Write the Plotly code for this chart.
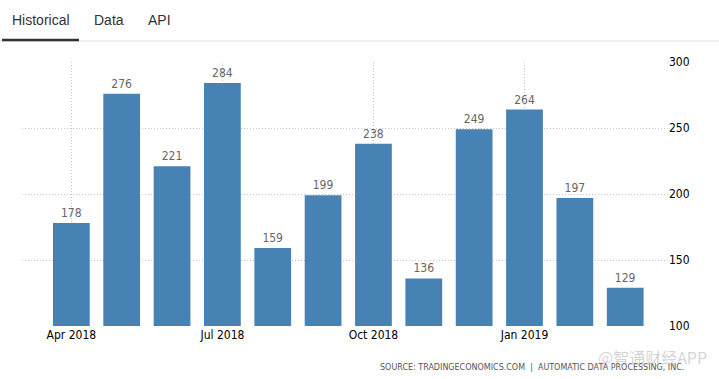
import plotly.graph_objects as go

months = ["Apr 2018", "May 2018", "Jun 2018", "Jul 2018", "Aug 2018", "Sep 2018",
          "Oct 2018", "Nov 2018", "Dec 2018", "Jan 2019", "Feb 2019", "Mar 2019"]
values = [178, 276, 221, 284, 159, 199, 238, 136, 249, 264, 197, 129]
tick_idx = [0, 3, 6, 9]
tick_labels = ["Apr 2018", "Jul 2018", "Oct 2018", "Jan 2019"]
y_ticks = [100, 150, 200, 250, 300]

W, H = 719, 379
L, R, T, B = 22, 668, 62, 326

def px(x):
    return (x - L) / (R - L)

def py(y):
    return (B - y) / (B - T)

x = list(range(len(values)))
fig = go.Figure()
fig.add_trace(go.Bar(
    x=x, y=values, width=0.73, marker=dict(color="#4682B4", line=dict(width=0)),
    text=[str(v) for v in values], textposition="outside",
    textfont=dict(family="DejaVu Sans Condensed", size=12, color="#666666"),
    cliponaxis=False, hoverinfo="skip",
))

fig.update_layout(
    width=W, height=H, margin=dict(l=L, r=W - R, t=T, b=H - B),
    paper_bgcolor="white", plot_bgcolor="white", showlegend=False,
    bargap=0.27,
    xaxis=dict(range=[-0.98, 11.85], tickmode="array", tickvals=tick_idx, ticktext=tick_labels,
               showgrid=True, gridcolor="#c8c8c8", griddash="1px,2px", gridwidth=1,
               zeroline=False, showline=False, ticks="",
               tickfont=dict(family="DejaVu Sans Condensed", size=12, color="#000000")),
    yaxis=dict(range=[100, 300], side="right", tickmode="array", tickvals=y_ticks,
               showgrid=True, gridcolor="#c8c8c8", griddash="1px,2px", gridwidth=1,
               zeroline=False, showline=False, ticks="",
               tickfont=dict(family="DejaVu Sans Condensed", size=12, color="#000000")),
    font=dict(family="DejaVu Sans Condensed"),
)

# tabs header
tabs = [("Historical", 10), ("Data", 92), ("API", 146)]
for label, xp in tabs:
    fig.add_annotation(x=px(xp), y=py(20), xref="paper", yref="paper", text=label,
                       showarrow=False, xanchor="left", yanchor="middle",
                       font=dict(family="Liberation Sans", size=14, color="#333333"))
fig.add_shape(type="line", xref="paper", yref="paper", x0=px(0), x1=px(W), y0=py(41), y1=py(41),
              line=dict(color="#dddddd", width=1))
fig.add_shape(type="line", xref="paper", yref="paper", x0=px(2), x1=px(79), y0=py(40), y1=py(40),
              line=dict(color="#333333", width=2.5))

fig.add_annotation(x=px(686), y=py(367), xref="paper", yref="paper",
                   text="SOURCE: TRADINGECONOMICS.COM  |  AUTOMATIC DATA PROCESSING, INC.",
                   showarrow=False, xanchor="right", yanchor="middle",
                   font=dict(family="DejaVu Sans", size=8, color="#555555"))
fig.add_annotation(x=px(709), y=py(357), xref="paper", yref="paper",
                   text="@智通财经APP", showarrow=False, xanchor="right", yanchor="middle",
                   font=dict(family="Noto Sans CJK SC", size=16, color="rgba(170,170,170,0.5)"))

fig.write_html("out.html", config={"displayModeBar": False},
               post_script="document.body.style.margin='0';document.body.style.overflow='hidden';")
